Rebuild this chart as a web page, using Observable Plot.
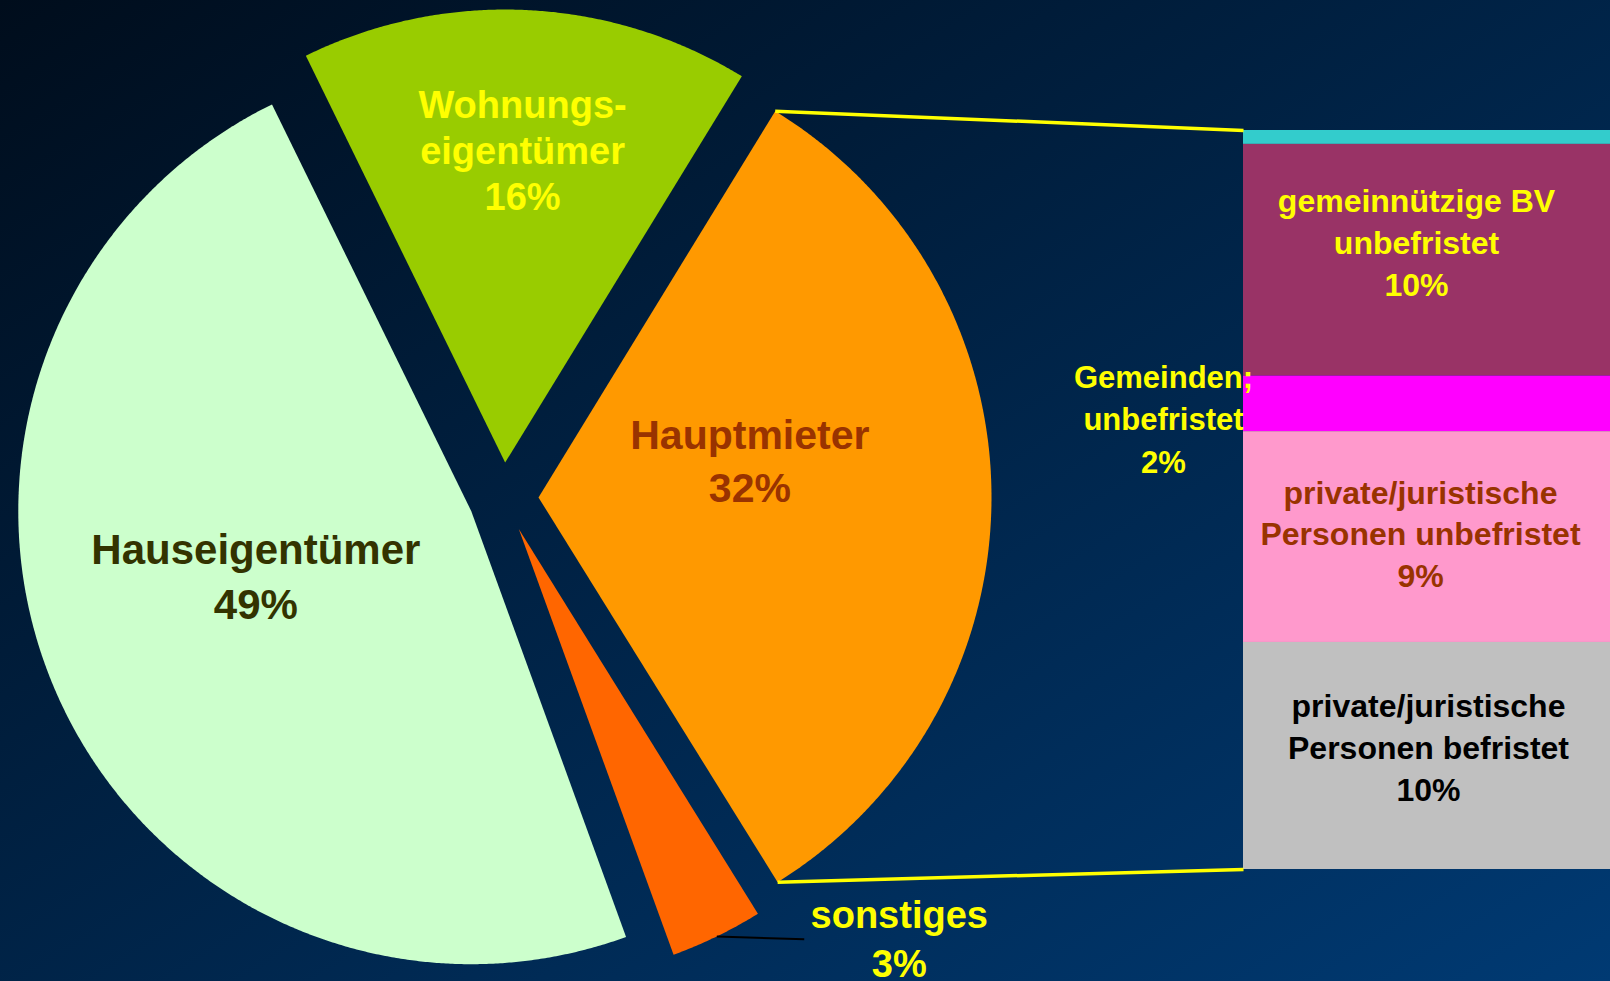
<!DOCTYPE html>
<html><head><meta charset="utf-8">
<script src="https://cdn.jsdelivr.net/npm/d3@7"></script>
<script src="https://cdn.jsdelivr.net/npm/@observablehq/plot@0.6"></script>
<style>
html,body{margin:0;padding:0;}
body{width:1610px;height:981px;overflow:hidden;background:linear-gradient(to bottom right,#000d1c,#003a73);}
#chart svg{display:block;}
</style></head><body><div id="chart"></div>
<script>
// ---- data ----
const pieCategories = ["Wohnungs-\neigentümer", "Hauptmieter", "sonstiges", "Hauseigentümer"];
const pieValues = [16.0, 32.4, 3.3, 48.3];
const pieLabels = ["16%", "32%", "3%", "49%"];
const pieColors = ["#99cc00", "#ff9900", "#ff6600", "#ccffcc"];
const pieTextColors = ["#ffff00", "#993300", "#ffff00", "#333300"];

const barCategories = ["", "gemeinnützige BV\nunbefristet", "Gemeinden;\nunbefristet", "private/juristische\nPersonen unbefristet", "private/juristische\nPersonen befristet"];
const barValues = [0.6, 10.0, 2.4, 9.1, 9.8];
const barLabels = ["", "10%", "2%", "9%", "10%"];
const barColors = ["#33cccc", "#993366", "#ff00ff", "#ff99cc", "#c0c0c0"];
const barTextColors = ["#ffff00", "#ffff00", "#ffff00", "#993300", "#000000"];

// ---- layout ----
const W = 1610, H = 981;
const C = [503, 497], R = 453, explode = 35;
const startDeg = -26.1;
const bar = {x1: 1243, x2: 1610, y1: 130, y2: 869};
const rad = d => d * Math.PI / 180;
const pieLabelLayout = [
  {angle: 3.2, dist: 312, dy: -2, size: 38, lh: 1.22},
  {angle: 81, dist: 214, dy: -5, size: 41, lh: 1.29},
  {angle: 137.3, dist: 561, dy: -4, size: 38, lh: 1.29},
  {angle: 252.4, dist: 226, dy: -6, size: 42, lh: 1.31}
];
const barLabelLayout = [null,
  {dx: 173, dy: -20, size: 32, lh: 1.31},
  {dx: -80, dy: 13, size: 31, lh: 1.37},
  {dx: 177, dy: -5, size: 32, lh: 1.31},
  {dx: 185, dy: -10, size: 32, lh: 1.31}
];
const font = "Liberation Sans, Arial, Helvetica, sans-serif";

// ---- pie geometry ----
const arcs = d3.pie().sort(null).value(d => d)
  .startAngle(rad(startDeg)).endAngle(rad(startDeg) + 2 * Math.PI)(pieValues);
const slices = arcs.map((a, i) => {
  const mid = (a.startAngle + a.endAngle) / 2;
  const cx = C[0] + explode * Math.sin(mid), cy = C[1] - explode * Math.cos(mid);
  const n = Math.max(4, Math.ceil((a.endAngle - a.startAngle) / 0.005));
  const pts = [{x: cx, y: cy}];
  for (let j = 0; j <= n; j++) {
    const t = a.startAngle + (a.endAngle - a.startAngle) * j / n;
    pts.push({x: cx + R * Math.sin(t), y: cy - R * Math.cos(t)});
  }
  return {i, a, mid, cx, cy, pts};
});

// ---- bar geometry ----
const total = d3.sum(barValues);
const yb = d3.scaleLinear([0, total], [bar.y1, bar.y2]);
const cum = d3.cumsum(barValues);
const segs = barValues.map((v, i) => ({i, y1: yb(cum[i] - v), y2: yb(cum[i])}));

// connectors from Hauptmieter arc ends to bar corners
const hm = slices[1];
const connectors = [
  {x1: hm.cx + R * Math.sin(hm.a.startAngle), y1: hm.cy - R * Math.cos(hm.a.startAngle), x2: bar.x1, y2: segs[0].y1},
  {x1: hm.cx + R * Math.sin(hm.a.endAngle), y1: hm.cy - R * Math.cos(hm.a.endAngle), x2: bar.x1, y2: segs[segs.length - 1].y2}
];

// pie labels
const pieText = slices.map(s => {
  const L = pieLabelLayout[s.i];
  return {
    x: s.cx + L.dist * Math.sin(rad(L.angle)),
    y: s.cy - L.dist * Math.cos(rad(L.angle)) + L.dy,
    text: pieCategories[s.i] + "\n" + pieLabels[s.i],
    fill: pieTextColors[s.i], size: L.size, lh: L.lh
  };
});
// leader for sonstiges
const so = slices[2];
const leader = [{
  x1: so.cx + R * Math.sin(so.mid), y1: so.cy - R * Math.cos(so.mid),
  x2: pieText[2].x - 95, y2: pieText[2].y + 2
}];

const barText = segs.filter(s => barLabels[s.i]).map(s => {
  const L = barLabelLayout[s.i];
  return {
    x: bar.x1 + L.dx, y: (s.y1 + s.y2) / 2 + L.dy,
    text: barCategories[s.i] + "\n" + barLabels[s.i],
    fill: barTextColors[s.i], size: L.size, lh: L.lh
  };
});

const marks = [];
slices.forEach(s => marks.push(Plot.line(s.pts, {x: "x", y: "y", fill: pieColors[s.i], stroke: "none"})));
marks.push(Plot.rect(segs, {x1: () => bar.x1, x2: () => bar.x2, y1: "y1", y2: "y2", fill: d => barColors[d.i]}));
marks.push(Plot.link(connectors, {x1: "x1", y1: "y1", x2: "x2", y2: "y2", stroke: "#ffff00", strokeWidth: 3.5}));
marks.push(Plot.link(leader, {x1: "x1", y1: "y1", x2: "x2", y2: "y2", stroke: "#000000", strokeWidth: 2}));
[...pieText, ...barText].forEach(t => marks.push(Plot.text([t], {
  x: "x", y: "y", text: "text", fill: t.fill, fontSize: t.size, lineHeight: t.lh,
  fontWeight: "bold", fontFamily: font, textAnchor: "middle", lineAnchor: "middle"
})));

const chart = Plot.plot({
  width: W, height: H, margin: 0,
  x: {domain: [0, W], range: [0, W], axis: null},
  y: {domain: [0, H], range: [0, H], axis: null},
  color: {type: "identity"},
  style: {background: "transparent", fontFamily: font},
  marks
});
document.getElementById("chart").append(chart);
</script></body></html>
